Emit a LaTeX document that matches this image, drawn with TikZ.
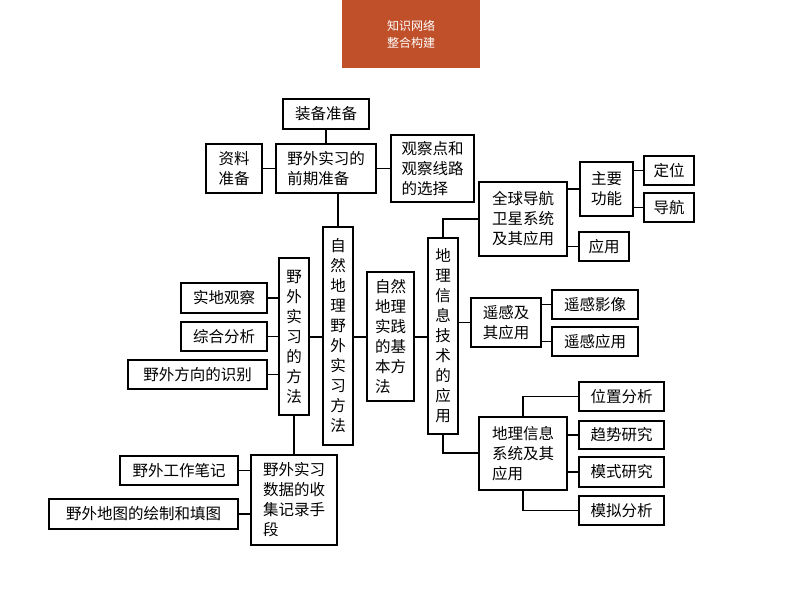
\documentclass[tikz,border=0pt]{standalone}
\usepackage{fontspec}
\setmainfont{Noto Sans CJK SC}
\begin{document}
\begin{tikzpicture}[x=1pt,y=-1pt,line width=1.3pt,
  bx/.style={draw,inner sep=0pt,align=left,font=\fontsize{15.5}{20}\selectfont},
  ln/.style={line width=1.2pt}]
\useasboundingbox (0,0) rectangle (794,596);
\fill[fill={rgb,255:red,192;green,80;blue,42}] (342,0) rectangle (480,68);
\node[text=white,align=left,font=\fontsize{12}{17}\selectfont] (hd) at (411,34) {知识网络\\整合构建};
\newcommand\bx[6]{\node[bx,minimum width=#4pt-#2pt,minimum height=#5pt-#3pt] (#1) at ({(#2+#4)/2},{(#3+#5)/2}) {#6};}
\bx{zb}{283}{99}{369}{129}{装备准备}
\bx{zl}{206}{144}{262}{193}{资料\\准备}
\bx{qq}{276}{144}{376}{193}{野外实习的\\前期准备}
\bx{gc}{391}{135}{474}{202}{观察点和\\观察线路\\的选择}
\bx{zr}{323}{227}{353}{445}{自\\然\\地\\理\\野\\外\\实\\习\\方\\法}
\bx{ff}{279}{258}{309}{415}{野\\外\\实\\习\\的\\方\\法}
\bx{sd}{181}{283}{267}{313}{实地观察}
\bx{zh}{181}{322}{267}{351}{综合分析}
\bx{fx}{128}{360}{267}{389}{野外方向的识别}
\bx{sj}{367}{272}{414}{401}{自然\\地理\\实践\\的基\\本方\\法}
\bx{sh}{251}{455}{337}{545}{野外实习\\数据的收\\集记录手\\段}
\bx{bj}{120}{456}{238}{485}{野外工作笔记}
\bx{dt}{49}{499}{238}{529}{野外地图的绘制和填图}
\bx{dl}{428}{238}{458}{434}{地\\理\\信\\息\\技\\术\\的\\应\\用}
\bx{qd}{479}{182}{567}{256}{全球导航\\卫星系统\\及其应用}
\bx{zy}{580}{162}{633}{216}{主要\\功能}
\bx{dw}{644}{156}{694}{185}{定位}
\bx{dh}{644}{193}{694}{222}{导航}
\bx{yy}{579}{232}{629}{261}{应用}
\bx{yg}{471}{298}{541}{347}{遥感及\\其应用}
\bx{yx}{552}{290}{638}{319}{遥感影像}
\bx{ya}{552}{327}{638}{356}{遥感应用}
\bx{gi}{479}{417}{567}{490}{地理信息\\系统及其\\应用}
\bx{wz}{579}{382}{664}{411}{位置分析}
\bx{qs}{579}{421}{664}{449}{趋势研究}
\bx{ms}{579}{457}{664}{487}{模式研究}
\bx{mn}{579}{496}{664}{525}{模拟分析}
\coordinate (c1) at (443,0);
\coordinate (c2) at (523,0);
\coordinate (c3) at (294,0);
\draw[ln] (zb.south) -- (qq.north -| zb.south);
\draw[ln] (zl.east) -- (qq.west |- zl.east);
\draw[ln] (qq.east) -- (gc.west |- qq.east);
\draw[ln] (qq.south -| zr.north) -- (zr.north);
\draw[ln] (ff.east |- 0,337) -- (zr.west |- 0,337);
\draw[ln] (zr.east |- 0,337) -- (sj.west |- 0,337);
\draw[ln] (sj.east |- 0,337) -- (dl.west |- 0,337);
\draw[ln] (sd.east) -- (ff.west |- sd.east);
\draw[ln] (zh.east) -- (ff.west |- zh.east);
\draw[ln] (fx.east) -- (ff.west |- fx.east);
\draw[ln] (c3 |- ff.south) -- (c3 |- sh.north);
\draw[ln] (bj.east) -- (sh.west |- bj.east);
\draw[ln] (dt.east) -- (sh.west |- dt.east);
\draw[ln] (c1 |- dl.north) |- (qd.west |- 0,219);
\draw[ln] (c1 |- dl.south) |- (gi.west |- 0,453);
\draw[ln] (dl.east |- yg.west) -- (yg.west);
\draw[ln] (qd.east |- 0,189) -- (zy.west |- 0,189);
\draw[ln] (zy.east |- dw.west) -- (dw.west);
\draw[ln] (zy.east |- dh.west) -- (dh.west);
\draw[ln] (qd.east |- yy.west) -- (yy.west);
\draw[ln] (yg.east |- yx.west) -- (yx.west);
\draw[ln] (yg.east |- ya.west) -- (ya.west);
\draw[ln] (c2 |- gi.north) |- (wz.west);
\draw[ln] (c2 |- gi.south) |- (mn.west);
\draw[ln] (gi.east |- qs.west) -- (qs.west);
\draw[ln] (gi.east |- ms.west) -- (ms.west);
\end{tikzpicture}
\end{document}
